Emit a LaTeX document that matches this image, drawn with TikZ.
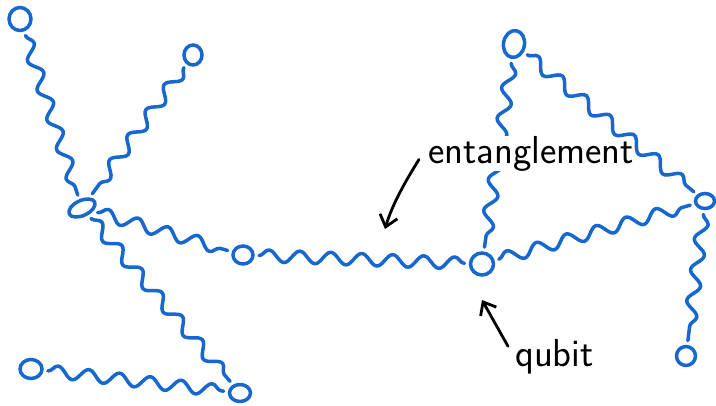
\documentclass[tikz,border=0pt]{standalone}
\usepackage{tikz}
\usetikzlibrary{shapes.geometric,decorations.pathmorphing,arrows.meta,calc}
\definecolor{inkblue}{RGB}{22,104,206}

\begin{document}
\begin{tikzpicture}[x=1pt, y=-1pt,
    qubit/.style={ellipse, draw=inkblue, line width=3.5pt, inner sep=0pt, outer sep=6pt},
    entangle/.style={draw=inkblue, line width=3.5pt, line cap=round, line join=round,
        decorate, decoration={snake, amplitude=6pt, segment length=31pt}},
    pointer/.style={line width=2.8pt, line cap=round,
        -{Straight Barb[length=11pt, width=18pt]}},
    handnote/.style={font=\sffamily\fontsize{39}{39}\selectfont, inner sep=0pt}]
    \useasboundingbox (0,0) rectangle (716,405);

    \node[qubit, minimum width=22pt, minimum height=23pt] (A) at (20,19) {};
    \node[qubit, minimum width=18pt, minimum height=20pt] (B) at (193,55) {};
    \node[qubit, minimum width=28pt, minimum height=15pt, rotate=25] (C) at (82,208) {};
    \node[qubit, minimum width=20pt, minimum height=18pt] (D) at (243,255) {};
    \node[qubit, minimum width=23pt, minimum height=22pt] (E) at (482,264) {};
    \node[qubit, minimum width=21pt, minimum height=27pt, rotate=-10] (F) at (514,44) {};
    \node[qubit, minimum width=19pt, minimum height=15pt] (G) at (705,201) {};
    \node[qubit, minimum width=19pt, minimum height=19pt] (H) at (686,356) {};
    \node[qubit, minimum width=22pt, minimum height=19pt] (I) at (31,369) {};
    \node[qubit, minimum width=21pt, minimum height=17pt] (J) at (240,393) {};

    \draw[entangle] (A) -- (C);
    \draw[entangle] (B) -- (C);
    \draw[entangle] (C) -- (D);
    \draw[entangle] (C) -- (J);
    \draw[entangle] (I) -- (J);
    \draw[entangle] (D) -- (E);
    \draw[entangle] (F) -- (E);
    \draw[entangle] (E) -- (G);
    \draw[entangle] (G) -- (H);

    \node[handnote, fill=white, anchor=base west] (ent) at (428,163) {entanglement};
    \node[handnote, anchor=base west] (qub) at (515,366) {qubit};

    \draw[entangle] (F) -- (G);

    \coordinate (entTip) at (385,229);
    \coordinate (qubTip) at (482,300);
    \draw[pointer] ($(ent.west)+(-9,6)$) .. controls (405,182) and (392,205) .. (entTip);
    \draw[pointer] ($(qub.west)+(-7,-10)$) -- (qubTip);
\end{tikzpicture}
\end{document}
